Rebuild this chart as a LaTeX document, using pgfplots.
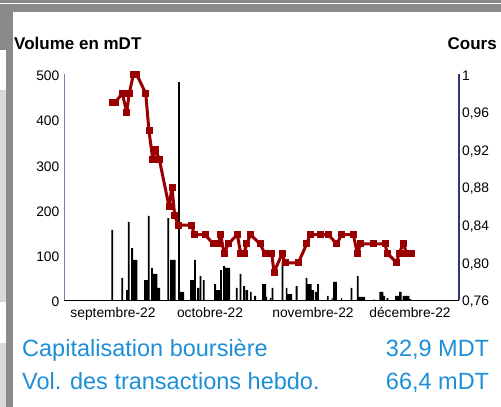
\documentclass[border=0pt]{standalone}
\usepackage{pgfplots}
\pgfplotsset{compat=1.18}
\usepackage{fontspec}
\setmainfont{Liberation Sans}
\definecolor{framegray}{HTML}{8A8A8A}
\definecolor{lightgray2}{HTML}{D9D9D9}
\definecolor{leftaxis}{HTML}{7480B0}
\definecolor{rightaxis}{HTML}{2E3A78}
\definecolor{coursred}{HTML}{990000}
\definecolor{infoblue}{HTML}{1D8FD6}
\begin{document}
\begin{tikzpicture}
\useasboundingbox (0bp,0bp) rectangle (501bp,407bp);
% screenshot frame
\fill[framegray] (0bp,395bp) rectangle (501bp,407bp);
\fill[white] (0bp,403.2bp) rectangle (501bp,404.2bp);
\fill[framegray] (6bp,0bp) rectangle (13bp,395bp);
\fill[framegray] (0bp,357bp) rectangle (6bp,395bp);
\fill[lightgray2] (0bp,105bp) rectangle (6bp,317bp);
\fill[lightgray2] (0bp,0bp) rectangle (6bp,64bp);

\begin{axis}[
  at={(64bp,106.5bp)}, anchor=south west, scale only axis,
  width=395bp, height=226bp,
  xmin=64, xmax=459, ymin=0, ymax=500,
  axis x line*=bottom, axis y line*=left,
  axis line style={-},
  x axis line style={draw=black, line width=1.3bp},
  y axis line style={draw=leftaxis, line width=1bp},
  xtick={113,210,313,410},
  xticklabels={septembre-22,octobre-22,novembre-22,décembre-22},
  ytick={0,100,200,300,400,500},
  major tick length=0pt, tick style={draw=none},
  ticklabel style={font=\fontsize{13.8bp}{16bp}\selectfont, inner sep=0pt},
  xticklabel style={anchor=north, yshift=-7bp},
  yticklabel style={anchor=east, xshift=-4.5bp, yshift=-1.4bp},
  /pgf/number format/assume math mode=true,
]
\addplot[fill=black, draw=none, const plot mark left] coordinates {
(111.4,156) (113.2,0)
(121.4,50) (123.2,0)
(126.0,23) (127.8,174) (129.6,0)
(131.2,116) (133.0,90) (137.3,0)
(144.0,45) (147.7,0)
(147.8,187) (149.6,0)
(151.0,72) (152.8,59) (157.3,28) (160.0,0)
(167.4,182) (169.2,0)
(170.0,90) (175.5,0)
(178.1,483) (179.9,19) (184.0,0)
(190.0,45) (194.0,90) (195.8,0)
(197.2,28) (199.0,0)
(199.5,54) (201.3,0)
(202.9,45) (204.7,0)
(214.0,36) (216.0,23) (220.0,67) (221.8,0)
(223.2,76) (225.0,72) (230.0,0)
(235.9,28) (237.7,0)
(239.5,59) (241.3,0)
(243.2,32) (245.0,0)
(245.7,23) (248.0,0)
(250.0,19) (251.7,0)
(254.2,10) (256.0,0)
(262.0,36) (266.0,8) (267.2,0)
(269.8,5) (271.2,0)
(271.5,28) (273.3,0)
(281.5,86) (283.3,0)
(285.8,28) (287.3,14) (292.0,0)
(295.7,32) (297.5,0)
(305.5,50) (307.3,36) (311.5,23) (314.0,0)
(315.0,19) (317.2,36) (318.8,0)
(327.0,10) (328.6,0)
(331.7,5) (332.7,0)
(333.0,41) (336.8,0)
(341.2,5) (342.2,0)
(350.6,28) (352.4,0)
(356.8,54) (358.6,8) (365.0,0)
(373.3,2) (375.0,0)
(379.3,19) (383.3,10) (385.0,0)
(386.7,5) (388.3,0)
(395.0,10) (399.0,19) (401.7,0)
(402.7,10) (409.3,3) (411.0,0)
} \closedcycle;
\end{axis}

\begin{axis}[
  at={(64bp,106.5bp)}, anchor=south west, scale only axis,
  width=395bp, height=226bp,
  xmin=64, xmax=459, ymin=0.76, ymax=1,
  axis x line=none, axis y line*=right,
  axis line style={-},
  y axis line style={draw=rightaxis, line width=1.4bp},
  ytick={0.76,0.80,0.84,0.88,0.92,0.96,1},
  yticklabels={{0,76},{0,80},{0,84},{0,88},{0,92},{0,96},{1}},
  major tick length=0pt, tick style={draw=none},
  ticklabel style={font=\fontsize{13.8bp}{16bp}\selectfont, inner sep=0pt},
  yticklabel style={anchor=west, xshift=3bp, yshift=-1.4bp},
]
\addplot[color=coursred, line width=3bp, line join=round, mark=square*, mark size=3bp,
  mark options={solid, fill=coursred, draw=coursred, line width=0pt}] coordinates {
(112.7,0.97) (115,0.97) (122.3,0.98) (126.7,0.96) (129.3,0.98) (133.3,1.00)
(136.7,1.00) (145.7,0.98) (149,0.94) (152.7,0.91) (155.7,0.92) (159.3,0.91)
(169,0.86) (172,0.88) (174.7,0.85) (178.3,0.84) (191.7,0.84) (194.3,0.83)
(205,0.83) (213.3,0.82) (218.3,0.82) (220.7,0.83) (224,0.81) (228.3,0.82)
(237.3,0.83) (240.7,0.81) (244,0.81) (246.7,0.82) (250.5,0.83) (260,0.82)
(265,0.81) (271.7,0.81) (274,0.79) (282.3,0.81) (285,0.80) (298.3,0.80)
(306.7,0.82) (310,0.83) (320,0.83) (328.3,0.83) (336.7,0.82) (341.7,0.83)
(353.3,0.83) (357.3,0.81) (360.7,0.82) (373.3,0.82) (385,0.82) (387.3,0.81)
(396.7,0.80) (399,0.81) (403.3,0.82) (406.7,0.81) (411.7,0.81)
};
\end{axis}

\node[anchor=base west, inner sep=0pt, font=\fontsize{17bp}{20bp}\selectfont\bfseries] at (14bp,357bp) {Volume en mDT};
\node[anchor=base east, inner sep=0pt, font=\fontsize{17bp}{20bp}\selectfont\bfseries] at (497bp,357bp) {Cours};

\node[anchor=base west, inner sep=0pt, text=infoblue, font=\fontsize{23.5bp}{26bp}\selectfont] at (22bp,50.3bp) {Capitalisation boursière};
\node[anchor=base west, inner sep=0pt, text=infoblue, font=\fontsize{23.5bp}{26bp}\selectfont] at (22bp,17.7bp) {Vol. des transactions hebdo.};
\node[anchor=base east, inner sep=0pt, text=infoblue, font=\fontsize{23.5bp}{26bp}\selectfont] at (489.3bp,50.3bp) {32,9 MDT};
\node[anchor=base east, inner sep=0pt, text=infoblue, font=\fontsize{23.5bp}{26bp}\selectfont] at (489.3bp,17.7bp) {66,4 mDT};
\end{tikzpicture}
\end{document}
